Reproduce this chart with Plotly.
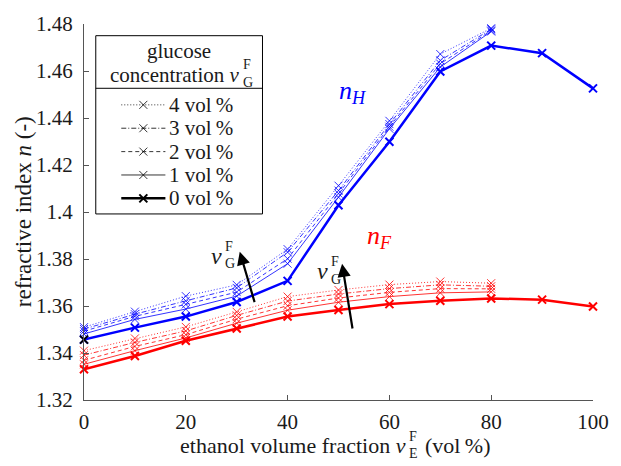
import plotly.graph_objects as go

# ethanol volume fraction (vol %)
ethanol = [0, 10, 20, 30, 40, 50, 60, 70, 80, 90, 100]
ethanol_glc = [0, 10, 20, 30, 40, 50, 60, 70, 80]

# refractive index n_H (blue) for glucose 0..4 vol %
nH_0 = [1.3457, 1.3508, 1.3555, 1.3617, 1.3707, 1.4029, 1.4299, 1.4598, 1.4708, 1.4676, 1.4526]
nH_1 = [1.3481, 1.3543, 1.3587, 1.3642, 1.3780, 1.4063, 1.4354, 1.4617, 1.4768]
nH_2 = [1.3493, 1.3556, 1.3607, 1.3659, 1.3801, 1.4078, 1.4363, 1.4631, 1.4772]
nH_3 = [1.3502, 1.3565, 1.3622, 1.3677, 1.3829, 1.4091, 1.4374, 1.4645, 1.4778]
nH_4 = [1.3510, 1.3576, 1.3642, 1.3690, 1.3842, 1.4112, 1.4388, 1.4672, 1.4782]

# refractive index n_F (red) for glucose 0..4 vol %
nF_0 = [1.3331, 1.3387, 1.3452, 1.3504, 1.3555, 1.3583, 1.3608, 1.3622, 1.3632, 1.3627, 1.3598]
nF_1 = [1.3352, 1.3410, 1.3464, 1.3527, 1.3582, 1.3616, 1.3640, 1.3656, 1.3660]
nF_2 = [1.3369, 1.3428, 1.3478, 1.3544, 1.3601, 1.3634, 1.3658, 1.3674, 1.3673]
nF_3 = [1.3391, 1.3445, 1.3494, 1.3560, 1.3621, 1.3651, 1.3674, 1.3690, 1.3684]
nF_4 = [1.3410, 1.3462, 1.3511, 1.3575, 1.3640, 1.3668, 1.3691, 1.3704, 1.3697]

glucose_labels = ["4 vol\u2009%", "3 vol\u2009%", "2 vol\u2009%", "1 vol\u2009%", "0 vol\u2009%"]
y_ticks = [1.32, 1.34, 1.36, 1.38, 1.40, 1.42, 1.44, 1.46, 1.48]
y_ticktext = ["1.32", "1.34", "1.36", "1.38", "1.4", "1.42", "1.44", "1.46", "1.48"]
x_ticks = [0, 20, 40, 60, 80, 100]

FONT = "Liberation Serif"
BLUE = "#0000ff"
RED = "#ff0000"
INK = "#1a1a1a"

# figure geometry (px)
W, H = 621, 466
ML, MR, MT, MB = 84, 18, 14, 66
PW, PH = W - ML - MR, H - MT - MB


def px(x):
    return (x - ML) / PW


def py(y):
    return (H - MB - y) / PH


thin_styles = {
    4: "1px,2px",
    3: "5px,2px,1px,2px",
    2: "4px,3px",
    1: "solid",
}
thin_nH = {4: nH_4, 3: nH_3, 2: nH_2, 1: nH_1}
thin_nF = {4: nF_4, 3: nF_3, 2: nF_2, 1: nF_1}

fig = go.Figure()

for level in [4, 3, 2, 1]:
    for series, color in ((thin_nH[level], BLUE), (thin_nF[level], RED)):
        fig.add_trace(go.Scatter(
            x=ethanol_glc, y=series, mode="lines+markers",
            line=dict(color=color, width=0.8, dash=thin_styles[level]),
            marker=dict(symbol="x-thin", size=8, line=dict(color=color, width=0.8)),
            cliponaxis=False, showlegend=False, hoverinfo="skip",
        ))

for series, color in ((nF_0, RED), (nH_0, BLUE)):
    fig.add_trace(go.Scatter(
        x=ethanol, y=series, mode="lines+markers",
        line=dict(color=color, width=2.5),
        marker=dict(symbol="x-thin", size=8, line=dict(color=color, width=2)),
        cliponaxis=False, showlegend=False, hoverinfo="skip",
    ))

# black cross at the first n_H point
fig.add_trace(go.Scatter(
    x=ethanol[:1], y=nH_0[:1], mode="markers",
    marker=dict(symbol="x-thin", size=8, line=dict(color="black", width=2)),
    cliponaxis=False, showlegend=False, hoverinfo="skip",
))

# legend key samples on a pixel-scaled overlay axis
legend_rows = [97, 121, 145, 169, 193]
legend_dash = ["1px,2px", "5px,2px,1px,2px", "4px,3px", "solid", "solid"]
legend_width = [0.8, 0.8, 0.8, 0.8, 2.5]
for row, dash, lw in zip(legend_rows, legend_dash, legend_width):
    fig.add_trace(go.Scatter(
        x=[122, 167], y=[row, row], mode="lines", xaxis="x2", yaxis="y2",
        line=dict(color="black", width=lw, dash=dash),
        showlegend=False, hoverinfo="skip",
    ))
    fig.add_trace(go.Scatter(
        x=[144.5], y=[row], mode="markers", xaxis="x2", yaxis="y2",
        marker=dict(symbol="x-thin", size=8,
                    line=dict(color="black", width=2 if lw > 1 else 0.8)),
        showlegend=False, hoverinfo="skip",
    ))

annotations = []


def text(x, y, s, size, color=INK, xanchor="center", yanchor="middle", angle=0):
    annotations.append(dict(
        x=px(x), y=py(y), xref="paper", yref="paper", text=s, showarrow=False,
        xanchor=xanchor, yanchor=yanchor, textangle=angle, borderpad=0,
        font=dict(family=FONT, size=size, color=color),
    ))


def stacked(x, y, base_right, sup, sub, size, sub_size):
    """Italic base symbol ending at x, with superscript and subscript stacked after it."""
    text(x, y, base_right, size, xanchor="right")
    text(x + 1, y - 10, sup, sub_size, xanchor="left")
    text(x + 1, y + 8, sub, sub_size, xanchor="left")


# axis titles
text(22, 207, "refractive index <i>n</i> (-)", 23, angle=-90)
stacked(413, 447, "ethanol volume fraction <i>v</i>", "F", "E", 22, 14)
text(431, 447, "(vol\u2009%)", 22, xanchor="left")

# curve labels
text(358, 84, "<i>n</i><sub><i>H</i></sub>", 26, color=BLUE)
text(385, 233, "<i>n</i><sub><i>F</i></sub>", 26, color=RED)

# v_G^F arrow labels
stacked(226, 252, "<i>v</i>", "F", "G", 24, 14)
stacked(334, 268, "<i>v</i>", "F", "G", 24, 14)

# legend title and entries
text(181, 42, "glucose", 21)
stacked(244, 66, "concentration <i>v</i>", "F", "G", 21, 14)
for row, label in zip(legend_rows, glucose_labels):
    text(170, row, label, 21, xanchor="left")

# arrows indicating increasing glucose concentration
for head, tail in (((30.6, 1.3831), (33.6, 1.3610)), ((50.7, 1.3780), (52.8, 1.3498))):
    annotations.append(dict(
        x=head[0], y=head[1], ax=tail[0], ay=tail[1],
        xref="x", yref="y", axref="x", ayref="y", text="",
        showarrow=True, arrowhead=2, arrowsize=1.2, arrowwidth=2.2, arrowcolor="black",
    ))

shapes = [
    dict(type="rect", xref="paper", yref="paper",
         x0=px(96), x1=px(266), y0=py(209), y1=py(26),
         line=dict(color="black", width=1), fillcolor="white", layer="below"),
    dict(type="line", xref="paper", yref="paper",
         x0=px(96), x1=px(266), y0=py(80), y1=py(80),
         line=dict(color="black", width=1)),
]

axis_common = dict(
    showgrid=False, zeroline=False, showline=True, linecolor="#555555", linewidth=1,
    ticks="inside", ticklen=5, tickwidth=1, tickcolor="#555555",
    tickfont=dict(family=FONT, size=21, color=INK), mirror=False,
)

fig.update_layout(
    width=W, height=H,
    margin=dict(l=ML, r=MR, t=MT, b=MB, pad=0),
    paper_bgcolor="white", plot_bgcolor="white",
    showlegend=False,
    font=dict(family=FONT),
    xaxis=dict(range=[0, 100], tickvals=x_ticks, ticklabelstandoff=3, **axis_common),
    yaxis=dict(range=[1.32, 1.48], tickvals=y_ticks, ticktext=y_ticktext,
               ticklabelstandoff=6, **axis_common),
    xaxis2=dict(overlaying="x", anchor="y2", range=[ML, W - MR], visible=False),
    yaxis2=dict(overlaying="y", anchor="x2", range=[H - MB, MT], visible=False),
    annotations=annotations,
    shapes=shapes,
)

fig.write_html("out.html")
